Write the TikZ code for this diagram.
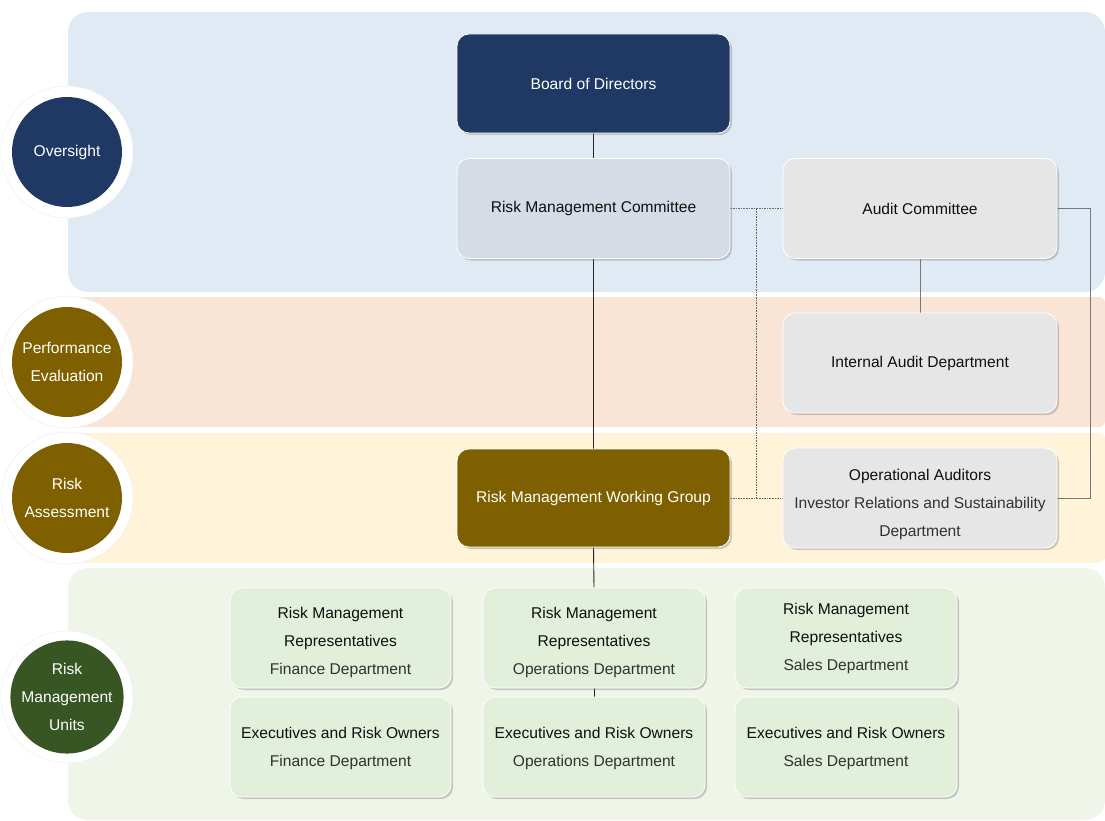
\documentclass[tikz,border=0pt]{standalone}
\usepackage{fontspec}
\setmainfont{Liberation Sans}
\usetikzlibrary{shadows,calc}

\definecolor{bandblue}{RGB}{223,234,245}
\definecolor{bandpeach}{RGB}{250,228,214}
\definecolor{bandyellow}{RGB}{255,244,218}
\definecolor{bandgreen}{RGB}{239,245,233}
\definecolor{navy}{RGB}{32,56,100}
\definecolor{olive}{RGB}{127,96,0}
\definecolor{forest}{RGB}{56,86,35}
\definecolor{steelgray}{RGB}{214,220,229}
\definecolor{lightgray}{RGB}{230,230,230}
\definecolor{palegreen}{RGB}{226,239,218}
\definecolor{txt}{RGB}{15,15,15}
\definecolor{subtxt}{RGB}{50,50,50}
\definecolor{linkgray}{RGB}{120,120,120}

\pgfdeclarelayer{bands}
\pgfdeclarelayer{links}
\pgfsetlayers{bands,links,main}

% first-line strut that lowers a multi-line label inside its box
\newcommand{\lowerby}[1]{\rule{0pt}{\dimexpr 11.5pt+2\dimexpr #1\relax\relax}}

\tikzset{
  lbl/.style={font=\fontsize{15.6}{28}\selectfont},
  orgbox/.style={lbl, rounded corners=12pt, align=center, inner sep=0pt,
    draw=white, line width=0.8pt, text=txt,
    drop shadow={shadow xshift=2pt, shadow yshift=-2pt, opacity=0.35, fill=black!55}},
  widebox/.style={orgbox, minimum width=273pt, minimum height=99pt},
  unitbox/.style={orgbox, fill=palegreen, minimum width=221pt, minimum height=100pt},
  ring/.style={circle, fill=white, draw=black!6, line width=0.6pt, minimum size=132pt, inner sep=0pt},
  phase/.style={circle, lbl, text=white, align=center, minimum size=110pt, inner sep=0pt},
  solidlink/.style={line width=0.9pt, draw=black!85},
  graylink/.style={line width=0.8pt, draw=linkgray},
  dotlink/.style={line width=0.7pt, draw=black!60, dash pattern=on 1.6pt off 1pt}
}

\begin{document}
\begin{tikzpicture}[x=1pt,y=-1pt]
\useasboundingbox (0,0) rectangle (1105,821);

% horizontal bands
\begin{pgfonlayer}{bands}
  \fill[bandblue, rounded corners=20pt] (68,12) rectangle (1105,292);
  \fill[bandpeach, rounded corners=6pt] (68,297) rectangle (1105,427);
  \fill[bandyellow, rounded corners=6pt] (68,433) rectangle (1105,563);
  \fill[bandgreen, rounded corners=20pt] (68,568) rectangle (1105,820);
\end{pgfonlayer}

% phase markers on the left
\node[ring] (r1) at (67,152) {};
\node[phase, fill=navy] (p1) at (67,152) {Oversight};
\node[ring] (r2) at (67,362) {};
\node[phase, fill=olive] (p2) at (67,362) {Performance\\Evaluation};
\node[ring] (r3) at (67,498) {};
\node[phase, fill=olive] (p3) at (67,498) {Risk\\Assessment};
\node[ring] (r4) at (67,697) {};
\node[phase, fill=forest] (p4) at (67,697) {Risk\\Management\\Units};

% governance boxes
\node[widebox, fill=navy, text=white] (board) at (593.5,83.5) {Board of Directors};
\node[widebox, fill=steelgray, minimum height=100pt] (rmc) at (593.5,208.5) {Risk Management Committee};
\node[widebox, fill=lightgray, minimum width=274pt, minimum height=100pt] (ac) at (920,208.5) {Audit Committee};
\node[widebox, fill=lightgray, minimum width=274pt, minimum height=100pt] (iad) at (920,363) {Internal Audit Department};
\node[widebox, fill=olive, text=white, minimum height=98pt] (rmwg) at (593.5,498) {Risk Management Working Group};
\node[widebox, fill=lightgray, minimum width=274pt, minimum height=100pt] (opa) at (920,498)
  {\lowerby{6pt}Operational Auditors\\\textcolor{subtxt}{Investor Relations and Sustainability}\\\textcolor{subtxt}{Department}};

% risk management units
\node[unitbox] (finR) at (340.5,638) {\lowerby{4pt}Risk Management\\Representatives\\\textcolor{subtxt}{Finance Department}};
\node[unitbox] (finE) at (340.5,747) {\lowerby{1pt}Executives and Risk Owners\\\textcolor{subtxt}{Finance Department}};
\node[unitbox, minimum width=222pt] (opsR) at (594,638) {\lowerby{4pt}Risk Management\\Representatives\\\textcolor{subtxt}{Operations Department}};
\node[unitbox, minimum width=222pt] (opsE) at (594,747) {\lowerby{1pt}Executives and Risk Owners\\\textcolor{subtxt}{Operations Department}};
\node[unitbox, minimum width=222pt] (salR) at (846,638) {Risk Management\\Representatives\\\textcolor{subtxt}{Sales Department}};
\node[unitbox, minimum width=222pt] (salE) at (846,747) {\lowerby{1pt}Executives and Risk Owners\\\textcolor{subtxt}{Sales Department}};

% connectors
\begin{pgfonlayer}{links}
  \draw[solidlink] (board.south) -- (rmc.north);
  \draw[solidlink] (rmc.south) -- (rmwg.north);
  \draw[solidlink] (rmwg.south) -- (opsR.north);
  \draw[solidlink] (opsR.south) -- (opsE.north);
  \draw[graylink] (ac.south) -- (iad.north);
  \draw[graylink] (ac.east) -- ++(33,0) |- (opa.east);
  \draw[dotlink] (rmc.east) -- (ac.west);
  \draw[dotlink] (rmwg.east) -- (opa.west);
  \draw[dotlink] ($(rmc.east)!.5!(ac.west)$) -- ($(rmwg.east)!.5!(opa.west)$);
\end{pgfonlayer}
\end{tikzpicture}
\end{document}
